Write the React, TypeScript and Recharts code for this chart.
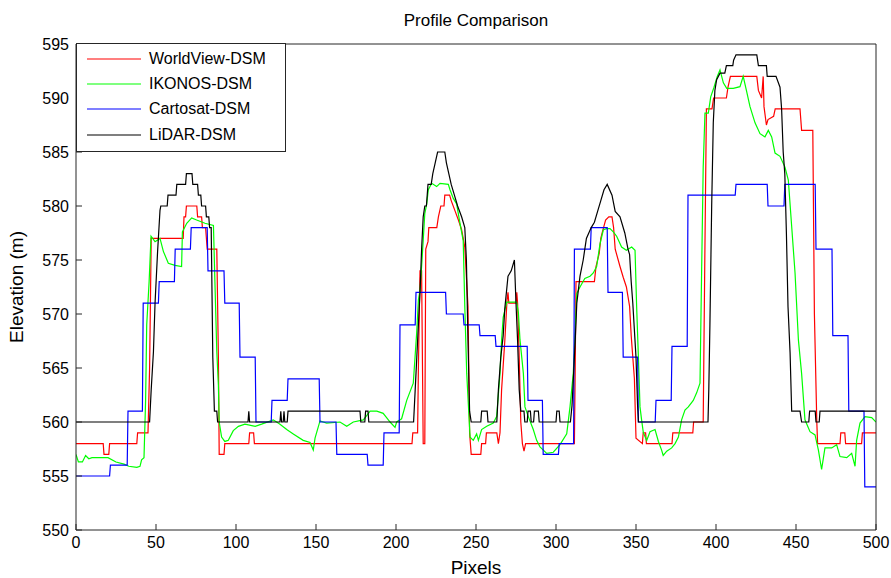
import { LineChart, Line, XAxis, YAxis, Legend } from 'recharts';

// profile samples: [pixel, elevation]
const worldview: [number, number][] = [
  [0, 558], [17, 558], [17.5, 557], [20.5, 557], [21, 558], [38, 558], [38.5, 559], [45, 559], [46, 565], [47, 577],
  [67, 577], [67.5, 579], [68.5, 579], [69, 580], [75.5, 580], [76, 579], [78.5, 579], [79, 578], [81, 578], [82, 576],
  [88, 576], [89, 566], [89.5, 557], [92.5, 557], [93, 558], [108, 558], [108.5, 559], [111, 559], [111.5, 558],
  [210, 558], [210.5, 559], [213.5, 559], [214, 565], [215, 574], [216, 574], [217, 558], [218, 558], [218.6, 576],
  [220, 576.7], [220.5, 578], [225.5, 578], [226.5, 579], [228, 580], [230, 580], [230.5, 581], [233.5, 581],
  [234.5, 580.5], [237, 579.5], [239, 578.7], [241, 577.8], [243, 576.2], [245, 570.7], [246, 559], [246.5, 558],
  [247, 557], [253, 557], [253.5, 558], [256, 558], [256.5, 559], [263, 559], [264, 558], [265, 559], [266, 563],
  [268, 567.5], [269.4, 571.3], [270, 572], [270.5, 571], [275, 571], [275.5, 572], [276, 571], [277, 566], [278, 560],
  [279, 558], [280, 557.3], [281, 558], [311.5, 558], [312, 565], [312.5, 573], [324, 573], [325, 574.4], [327, 575.6],
  [328, 577], [329, 577.6], [331, 578.7], [333, 579], [335, 579], [336, 578], [337, 576], [340, 574.4], [342, 573.4],
  [344, 572.5], [346, 570.7], [347, 568], [349, 564], [350, 558.5], [354, 558], [354.5, 559], [356, 559], [356.5, 558],
  [372.5, 558], [373, 559], [385.5, 559], [386, 560], [392, 560], [393, 575], [394, 589], [397.5, 589], [398.5, 590],
  [406.5, 590], [407.5, 591], [409, 592], [425.5, 592], [426.5, 590.7], [428.5, 590], [429.5, 592], [430, 589.2],
  [431.5, 587.5], [432.5, 588], [436, 588.3], [437, 589], [452.5, 589], [453.5, 587], [460.5, 587], [461.5, 570],
  [463, 560], [463.5, 558], [477.5, 558], [478, 559], [480.5, 559], [481, 558], [491, 558], [491.5, 559], [500, 559],
];

const ikonos: [number, number][] = [
  [0, 557], [1.5, 556.3], [4, 556.3], [6, 556.9], [8, 556.6], [10, 556.7], [20, 556.7], [25, 556.3], [30, 556.1],
  [33, 555.9], [38, 555.8], [40, 555.9], [41, 556.5], [42.5, 556.7], [43.5, 562], [44.2, 569], [45.7, 573], [46.9, 577.2],
  [49.4, 576.7], [52.5, 577], [54.6, 575.8], [57.7, 574.7], [61.9, 574.5], [66, 574.4], [66.5, 577.6], [69.2, 578.4],
  [72.3, 578.9], [75.4, 578.7], [80.6, 578.4], [85.9, 578.2], [87, 572], [88, 566.5], [89, 563.4], [89.5, 560],
  [91, 558.6], [93, 558.2], [95.2, 558.3], [98.3, 559.2], [101.5, 559.6], [105.6, 559.8], [112, 559.6], [116, 559.8],
  [123.3, 560.2], [127.5, 559.8], [131.7, 559.3], [135.8, 558.9], [142, 558.3], [146.3, 558.1], [148.3, 557.4],
  [149.4, 558.5], [152.5, 560.1], [156.7, 559.9], [165, 560], [169.2, 559.6], [173.3, 560], [179.6, 560.2], [183.8, 561],
  [188, 561], [192, 560.8], [196.3, 560], [199.4, 559.5], [200.4, 560], [203.5, 560.3], [206.7, 562], [210.8, 563.6],
  [211.9, 566], [212.9, 568.2], [214, 571.3], [215, 572.2], [216, 574.4], [217, 576.8], [218, 579.3], [219.2, 580.2],
  [220.2, 581.5], [222.3, 582.1], [225.4, 581.8], [227.5, 582.1], [232.7, 582], [233.75, 581.5], [235.8, 580.7],
  [237.9, 580.2], [240, 578.4], [242, 576.8], [243, 570.7], [244.2, 564.5], [246.3, 558.6], [248.3, 558.3],
  [250.4, 558.9], [251.5, 558.3], [253.5, 559.3], [256.7, 559.6], [260.8, 559.9], [262.9, 560.5], [265, 564.5],
  [266, 567.6], [267, 569.7], [269.2, 571.1], [275.4, 571.1], [276.5, 570.1], [277.5, 567.6], [279.6, 564.5],
  [280.6, 561.4], [282.7, 560.5], [285.8, 559.3], [287.9, 558.3], [290, 557.7], [294.2, 557.1], [298.3, 557.2],
  [302.5, 557.9], [306.7, 558.9], [308.75, 561.4], [310.8, 564.5], [311.9, 568.2], [313, 571.9], [315, 572.5],
  [318, 573.3], [321.25, 573.5], [323.3, 573.8], [325.4, 574.4], [327.5, 576.5], [329.6, 577.8], [331.7, 577.9],
  [333.75, 577.9], [335.8, 577.6], [337.9, 577.2], [341, 576.2], [344, 575.9], [347.3, 576.2], [349.4, 575.9],
  [350.4, 570.7], [351.5, 566], [352.5, 561.4], [353.5, 560.2], [354.6, 559], [356.7, 558.3], [358.75, 559.1],
  [361.9, 559.3], [364, 558.2], [366, 557.4], [367, 556.9], [369.2, 557.3], [372.3, 557.6], [374.4, 558], [376.5, 558.6],
  [378.5, 560.2], [380.6, 561.1], [382.7, 561.4], [385.8, 562], [387.9, 562.7], [390, 563.6], [391, 573.8], [392, 583.6],
  [393.1, 588.6], [395.2, 588.6], [396.7, 590.1], [398.75, 591], [400.8, 592], [402.5, 592.6], [404.6, 591.4],
  [406.7, 590.9], [410.8, 590.9], [415, 591.05], [417, 592], [419, 590.7], [421.25, 589.2], [424.4, 587.7],
  [427.5, 586.7], [430.6, 586.4], [432.7, 587], [434.8, 586.4], [436.9, 584.9], [440, 584.6], [443.1, 583.6],
  [445.2, 582.4], [447.3, 578.1], [449.4, 573.8], [451.5, 567.6], [453.5, 564.5], [455.6, 560.2], [458.75, 559.1],
  [461.9, 558.8], [464, 557.4], [466, 555.6], [468.1, 557.6], [472.3, 557.6], [475.4, 557.9], [477.5, 556.8],
  [481.7, 556.7], [484.8, 557.1], [486.9, 555.9], [487.9, 558.3], [490, 559.9], [493.1, 560.5], [497.3, 560.4], [500, 560],
];

const cartosat: [number, number][] = [
  [0, 555], [21, 555], [21.5, 556], [32, 556], [32.5, 561], [41.5, 561], [42, 571], [51.5, 571], [52, 573], [61.5, 573],
  [62, 576], [71.5, 576], [72, 578], [82, 578], [82.5, 574], [92.5, 574], [93, 571], [102, 571], [102.5, 566], [112, 566],
  [112.5, 560], [122, 560], [122.5, 562], [132, 562], [132.5, 564], [152, 564], [152.5, 560], [162.5, 560], [163, 557],
  [182, 557], [182.5, 556], [192, 556], [192.5, 559], [202, 559], [202.5, 569], [212, 569], [212.5, 572], [231, 572],
  [231.5, 570], [242, 570], [242.5, 569], [252, 569], [252.5, 568], [262, 568], [262.5, 567], [282, 567], [282.5, 562],
  [291.5, 562], [292, 557], [301.5, 557], [302, 558], [311, 558], [311.5, 576], [321.5, 576], [322, 578], [332, 578],
  [332.5, 572], [341.5, 572], [342, 566], [351, 566], [351.5, 560], [362, 560], [362.5, 562], [372, 562], [372.5, 567],
  [382, 567], [382.5, 581], [412, 581], [412.5, 582], [432, 582], [432.5, 580], [442.5, 580], [443, 582], [462, 582],
  [462.5, 576], [472.5, 576], [473, 568], [482.5, 568], [483, 561], [492.5, 561], [493, 554], [500, 554],
];

const lidar: [number, number][] = [
  [0, 560], [46, 560], [47, 563], [48.4, 566.5], [49.4, 571], [51, 575.8], [52.5, 579.6], [53, 580], [57, 580],
  [57.5, 581], [62.5, 581], [63, 582], [68.5, 582], [69, 583], [72.5, 583], [73, 582], [76, 582], [76.5, 581], [78, 581],
  [78.5, 580], [81, 580], [81.5, 579], [83, 579], [83.5, 578], [84.5, 578], [85.5, 566], [86.5, 561], [88, 561],
  [88.5, 560], [107.5, 560], [108, 561], [108.5, 560], [127.5, 560], [128, 561], [128.5, 560], [129.5, 560], [130, 561],
  [130.5, 560], [132, 560], [132.5, 561], [177.5, 561], [178, 560], [180.5, 560], [181, 561], [182.5, 561], [183, 560],
  [211, 560], [212, 563], [213, 566], [214, 569], [215, 572], [216, 576], [217, 579], [218, 580], [219, 580], [220, 582],
  [222, 582], [223, 583], [224.5, 584], [226, 585], [230.5, 585], [231.5, 584], [233, 583], [234.5, 582], [236.5, 581],
  [238.5, 580], [241, 579], [243, 578], [244, 575], [245, 567.5], [246, 561], [247, 560], [253, 560], [253.5, 561],
  [257, 561], [257.5, 560], [263, 560], [264, 563], [265.5, 566], [267, 568], [268, 570.5], [270, 573.5], [272, 574],
  [274, 575], [275, 571], [276, 567.5], [277, 563], [278, 561], [280, 561], [280.5, 560], [282, 560], [282.5, 561],
  [284, 561], [284.5, 560], [286, 560], [286.5, 561], [289, 561], [289.5, 560], [300, 560], [300.5, 561], [302, 561],
  [302.5, 560], [309, 560], [310, 561.5], [312, 567.5], [313, 571], [315, 573.5], [317, 575], [319, 577], [322, 578],
  [324, 578.5], [326, 579.5], [328, 580.5], [330, 581.5], [332, 582], [335, 581], [337, 579.5], [340, 579], [343, 577.5],
  [345, 576], [346, 575.5], [347, 573], [348, 571], [350, 566], [351, 561.5], [351.5, 560], [395, 560], [395.5, 563],
  [396.2, 569], [397.3, 580], [398.3, 587.7], [399.3, 590.7], [400.4, 591.7], [402.5, 592.3], [405.5, 592.3],
  [406.5, 593], [410.5, 593], [411, 593.5], [412.5, 594], [425.5, 594], [426.5, 593], [431.5, 593], [432, 592],
  [437.5, 592], [440, 591], [441, 589], [442, 585], [443, 583], [444, 577.5], [445, 570.7], [446.3, 566.4], [447.3, 561],
  [452.5, 561], [453.5, 560], [458, 560], [458.5, 561], [462, 561], [462.5, 560], [464.5, 560], [465, 561], [500, 561],
];

const seriesNames = ['WorldView-DSM', 'IKONOS-DSM', 'Cartosat-DSM', 'LiDAR-DSM'];
const seriesColors = ['#ff0000', '#00ff00', '#0000ff', '#000000'];
const seriesData = [worldview, ikonos, cartosat, lidar];
const xTicks = [0, 50, 100, 150, 200, 250, 300, 350, 400, 450, 500];
const yTicks = [550, 555, 560, 565, 570, 575, 580, 585, 590, 595];

const toPoints = (s: [number, number][]) => s.map(([x, y]) => ({ x, y }));

const font = '"Liberation Sans", Arial, sans-serif';
const axisColor = '#262626';

// legend built from the series list so it keeps plotting order
const LegendBox = () => (
  <div
    style={{
      width: 208,
      height: 105,
      border: `1px solid ${axisColor}`,
      background: '#fff',
      fontFamily: font,
      fontSize: 16,
      color: '#000',
      boxSizing: 'content-box',
      paddingTop: 2,
    }}
  >
    {seriesNames.map((name, i) => (
      <div key={name} style={{ display: 'flex', alignItems: 'center', height: 25.3, paddingLeft: 10 }}>
        <svg width={54} height={4} style={{ marginRight: 8, display: 'block' }}>
          <line x1={0} y1={2} x2={54} y2={2} stroke={seriesColors[i]} strokeWidth={1.2} />
        </svg>
        <span>{name}</span>
      </div>
    ))}
  </div>
);

export default function App() {
  return (
    <div style={{ position: 'absolute', left: 0, top: 0, width: 891, height: 578, background: '#fff' }}>
      <div
        style={{
          position: 'absolute',
          left: 76,
          width: 800,
          top: 11,
          textAlign: 'center',
          fontFamily: font,
          fontSize: 17,
          color: '#000',
        }}
      >
        Profile Comparison
      </div>
      <LineChart width={891} height={578} margin={{ top: 34, right: 5, bottom: 0, left: 0 }}>
        <XAxis
          dataKey="x"
          type="number"
          domain={[0, 500]}
          ticks={xTicks}
          allowDataOverflow
          height={48}
          tickSize={-6}
          tickMargin={13}
          stroke={axisColor}
          tick={{ fill: '#000', fontSize: 16, fontFamily: font }}
          label={{ value: 'Pixels', position: 'insideBottom', offset: 4, fill: '#000', fontSize: 19, fontFamily: font }}
        />
        <XAxis
          xAxisId="top"
          orientation="top"
          dataKey="x"
          type="number"
          domain={[0, 500]}
          ticks={xTicks}
          height={10}
          tickSize={-6}
          tick={false}
          stroke={axisColor}
        />
        <YAxis
          type="number"
          domain={[550, 595]}
          ticks={yTicks}
          allowDataOverflow
          width={76}
          tickSize={-6}
          tickMargin={13}
          stroke={axisColor}
          tick={{ fill: '#000', fontSize: 16, fontFamily: font }}
          label={{
            value: 'Elevation (m)',
            angle: -90,
            position: 'insideLeft',
            offset: 16,
            style: { textAnchor: 'middle' },
            fill: '#000',
            fontSize: 19,
            fontFamily: font,
          }}
        />
        <YAxis
          yAxisId="right"
          orientation="right"
          type="number"
          domain={[550, 595]}
          ticks={yTicks}
          width={10}
          tickSize={-6}
          tick={false}
          stroke={axisColor}
        />
        <Legend
          layout="vertical"
          align="center"
          verticalAlign="middle"
          wrapperStyle={{ left: 76, top: 43, width: 210, height: 108 }}
          content={<LegendBox />}
        />
        {seriesData.map((s, i) => (
          <Line
            key={seriesNames[i]}
            data={toPoints(s)}
            dataKey="y"
            name={seriesNames[i]}
            stroke={seriesColors[i]}
            strokeWidth={1.2}
            dot={false}
            activeDot={false}
            type="linear"
            isAnimationActive={false}
          />
        ))}
      </LineChart>
    </div>
  );
}
